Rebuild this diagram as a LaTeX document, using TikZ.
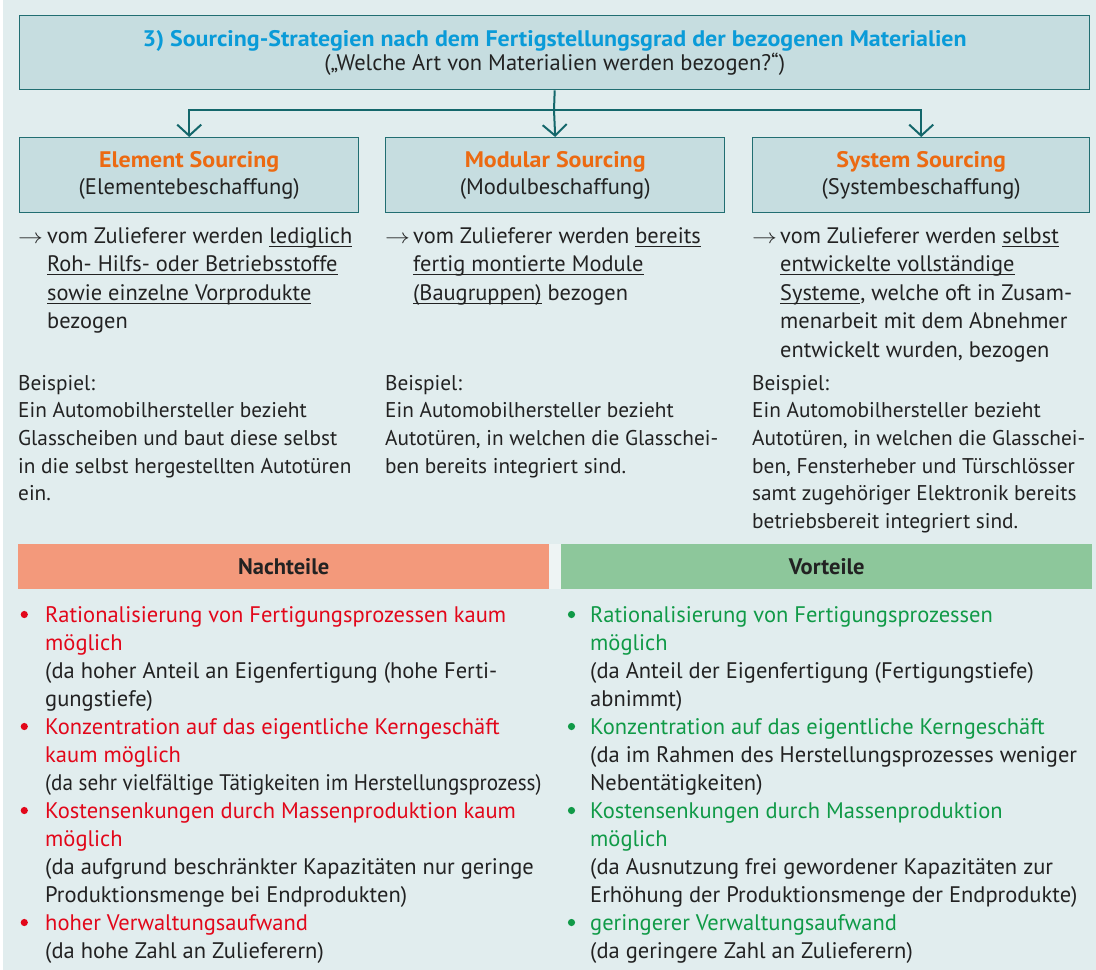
\documentclass[tikz,border=0pt]{standalone}
\usepackage{fontspec}
\usepackage{graphicx}
\setmainfont{PT Sans}
\usetikzlibrary{arrows.meta}
\definecolor{bg}{HTML}{E1EDEE}
\definecolor{boxfill}{HTML}{C6DDE0}
\definecolor{boxline}{HTML}{216E72}
\definecolor{conncol}{HTML}{14676B}
\definecolor{tblue}{HTML}{0A9BD8}
\definecolor{orng}{HTML}{EC6A12}
\definecolor{cred}{HTML}{E2071A}
\definecolor{cgreen}{HTML}{109A47}
\definecolor{orhdr}{HTML}{F3997B}
\definecolor{grhdr}{HTML}{8DC79B}
\definecolor{ink}{HTML}{222222}
\definecolor{gapc}{HTML}{EEF4F4}
\newcommand\fs{\rule{0pt}{22pt}}
\newcommand\bw[1]{\scalebox{1.065}[1]{\bfseries #1}}
\newcommand\cond[1]{\scalebox{0.94}[1]{#1}}
\newcommand\rarr{\scalebox{1.2}[1]{$\rightarrow$}}
\newsavebox\ulbox
\newcommand\ul[1]{\sbox\ulbox{#1}\rlap{\rule[-3.4pt]{\wd\ulbox}{0.9pt}}\usebox\ulbox}
\begin{document}
\begin{tikzpicture}[x=1pt,y=-1pt,
  box/.style={draw=boxline, line width=1.4pt, fill=boxfill, anchor=north west, align=center,
    inner sep=0pt, text=ink, font=\fontsize{22.5}{26.5}\selectfont},
  conn/.style={draw=conncol, line width=2pt},
  tip/.style={-{Straight Barb[length=11pt,width=24pt,line width=2pt]}},
  txt/.style={anchor=north west, inner sep=0pt, align=left, text=ink, font=\fontsize{22.4}{28.5}\selectfont},
  exm/.style={anchor=north west, inner sep=0pt, align=left, text=ink, font=\fontsize{21.3}{27.6}\selectfont},
  btxt/.style={anchor=north west, inner sep=0pt, align=left, text=ink, font=\fontsize{22.5}{28}\selectfont},
  hdr/.style={anchor=north west, inner sep=0pt, minimum height=45pt, minimum width=531pt, text=ink, font=\fontsize{22.5}{24}\selectfont\bfseries}]
\useasboundingbox (0,0) rectangle (1096,970);
\fill[white] (0,0) rectangle (1096,970);
\fill[bg] (3,0) rectangle (1096,970);

% title
\node[box, minimum width=1070pt, minimum height=74pt, font=\fontsize{22.5}{24}\selectfont] (title) at (19,15)
  {\textcolor{tblue}{\bw{3) Sourcing-Strategien nach dem Fertigstellungsgrad der bezogenen Materialien}}\\(„Welche Art von Materialien werden bezogen?“)};

% three boxes
\node[box, minimum width=339pt, minimum height=75pt] (elem) at (19,137)
  {\textcolor{orng}{\bw{Element Sourcing}}\\(Elementebeschaffung)};
\node[box, minimum width=339pt, minimum height=75pt] (modu) at (385,137)
  {\textcolor{orng}{\bw{Modular Sourcing}}\\(Modulbeschaffung)};
\node[box, minimum width=337pt, minimum height=75pt] (syst) at (752,137)
  {\textcolor{orng}{\bw{System Sourcing}}\\(Systembeschaffung)};

% connectors
\coordinate (bar) at (554,110);
\draw[conn] (title.south) -- (bar);
\draw[conn, tip] (bar) -| (elem.north);
\draw[conn, tip] (bar) -- (modu.north);
\draw[conn, tip] (bar) -| (syst.north);

% descriptions
\node[txt] (ea) at (18,221) {\fs\rarr};
\node[txt] (et) at (47,221) {\fs vom Zulieferer werden \ul{lediglich}\\\ul{Roh- Hilfs- oder Betriebsstoffe}\\\ul{sowie einzelne Vorprodukte}\\bezogen};
\node[txt] (ma) at (385,221) {\fs\rarr};
\node[txt] (mt) at (413,221) {\fs vom Zulieferer werden \ul{bereits}\\\ul{fertig montierte Module}\\\ul{(Baugruppen)} bezogen};
\node[txt] (sa) at (752,221) {\fs\rarr};
\node[txt] (st) at (780,221) {\fs vom Zulieferer werden \ul{selbst}\\\ul{entwickelte vollständige}\\\ul{Systeme}, welche oft in Zusam-\\menarbeit mit dem Abnehmer\\entwickelt wurden, bezogen};

% examples
\node[exm] (ex1) at (18,368) {\fs Beispiel:\\Ein Automobilhersteller bezieht\\Glasscheiben und baut diese selbst\\in die selbst hergestellten Autotüren\\ein.};
\node[exm] (ex2) at (385,368) {\fs Beispiel:\\Ein Automobilhersteller bezieht\\Autotüren, in welchen die Glasschei-\\ben bereits integriert sind.};
\node[exm] (ex3) at (752,368) {\fs Beispiel:\\Ein Automobilhersteller bezieht\\Autotüren, in welchen die Glasschei-\\ben, Fensterheber und Türschlösser\\samt zugehöriger Elektronik bereits\\betriebsbereit integriert sind.};

% headers
\fill[gapc] (549,544) rectangle (561,589);
\node[hdr, fill=orhdr] (nach) at (18,544) {Nachteile};
\node[hdr, fill=grhdr] (vort) at (561,544) {Vorteile};

% bullets
\foreach \yy in {622,734,818,930}{
  \fill[cred] (24.3,\yy-7.5) circle (3.6);
  \fill[cgreen] (571.5,\yy-7.5) circle (3.6);
}
\node[btxt] (nl) at (45,600) {\fs\textcolor{cred}{Rationalisierung von Fertigungsprozessen kaum}\\
\textcolor{cred}{möglich}\\
(da hoher Anteil an Eigenfertigung (hohe Ferti-\\
gungstiefe)\\
\textcolor{cred}{Konzentration auf das eigentliche Kerngeschäft}\\
\textcolor{cred}{kaum möglich}\\
\cond{(da sehr vielfältige Tätigkeiten im Herstellungsprozess)}\\
\textcolor{cred}{Kostensenkungen durch Massenproduktion kaum}\\
\textcolor{cred}{möglich}\\
(da aufgrund beschränkter Kapazitäten nur geringe\\
Produktionsmenge bei Endprodukten)\\
\textcolor{cred}{hoher Verwaltungsaufwand}\\
(da hohe Zahl an Zulieferern)};
\node[btxt] (vl) at (590,600) {\fs\textcolor{cgreen}{Rationalisierung von Fertigungsprozessen}\\
\textcolor{cgreen}{möglich}\\
(da Anteil der Eigenfertigung (Fertigungstiefe)\\
abnimmt)\\
\textcolor{cgreen}{Konzentration auf das eigentliche Kerngeschäft}\\
(da im Rahmen des Herstellungsprozesses weniger\\
Nebentätigkeiten)\\
\textcolor{cgreen}{Kostensenkungen durch Massenproduktion}\\
\textcolor{cgreen}{möglich}\\
(da Ausnutzung frei gewordener Kapazitäten zur\\
Erhöhung der Produktionsmenge der Endprodukte)\\
\textcolor{cgreen}{geringerer Verwaltungsaufwand}\\
(da geringere Zahl an Zulieferern)};
\end{tikzpicture}
\end{document}
